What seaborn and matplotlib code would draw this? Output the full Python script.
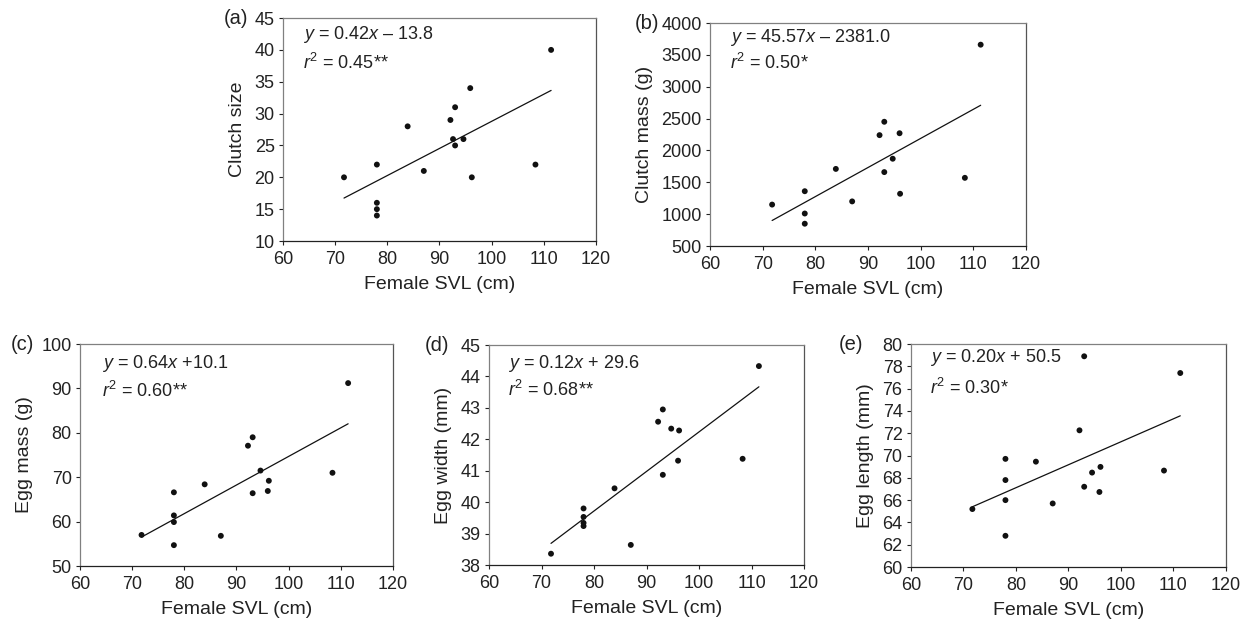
import matplotlib
matplotlib.use("Agg")
import matplotlib.pyplot as plt
import seaborn as sns

sns.set_style("ticks")
plt.rcParams['font.family'] = ['Liberation Sans', 'DejaVu Sans']
plt.rcParams['mathtext.fontset'] = 'custom'
plt.rcParams['mathtext.rm'] = 'Liberation Sans'
plt.rcParams['mathtext.it'] = 'Liberation Sans:italic'
plt.rcParams['text.color'] = '#222222'
plt.rcParams['axes.labelcolor'] = '#222222'
plt.rcParams['xtick.color'] = '#222222'
plt.rcParams['ytick.color'] = '#222222'

# female snout-vent length (cm) and reproductive traits
x_a = [71.7, 78.0, 78.0, 78.0, 78.0, 83.9, 87.0, 92.1, 92.6, 93.0, 93.0, 94.6, 95.9, 96.2, 108.4, 111.4]
clutch_size = [20, 22, 16, 15, 14, 28, 21, 29, 26, 31, 25, 26, 34, 20, 22, 40]

x_b = [71.8, 78.0, 78.0, 78.0, 83.9, 87.0, 92.2, 93.1, 93.1, 94.7, 96.0, 96.1, 108.4, 111.4]
clutch_mass = [1150, 1360, 1010, 850, 1710, 1200, 2240, 2450, 1660, 1870, 2270, 1320, 1570, 3660]

x_c = [71.8, 78.0, 78.0, 78.0, 78.0, 83.9, 87.0, 92.2, 93.1, 93.1, 94.6, 96.0, 96.2, 108.4, 111.4]
egg_mass = [57.0, 66.6, 61.4, 59.9, 54.7, 68.4, 56.8, 77.1, 79.0, 66.4, 71.5, 66.9, 69.2, 71.0, 91.2]

x_d = [71.8, 78.0, 78.0, 78.0, 78.0, 83.9, 87.0, 92.2, 93.1, 93.1, 94.7, 96.2, 96.0, 108.3, 111.4]
egg_width = [38.36, 39.80, 39.53, 39.34, 39.24, 40.44, 38.64, 42.56, 42.95, 40.87, 42.34, 42.28, 41.32, 41.38, 44.33]

x_e = [71.7, 78.0, 78.0, 78.0, 78.0, 83.8, 87.0, 92.1, 93.0, 93.0, 94.5, 95.9, 96.1, 108.2, 111.3]
egg_length = [65.2, 69.7, 67.8, 66.0, 62.8, 69.45, 65.7, 72.26, 78.9, 67.2, 68.47, 66.73, 68.98, 68.65, 77.4]

x_ticks = [60, 70, 80, 90, 100, 110, 120]

panels = [
    # letter, x, y, ylabel, yticks, equation, r2 text
    ('(a)', x_a, clutch_size, 'Clutch size', list(range(10, 46, 5)),
     r'$\it{y}$ = 0.42$\it{x}$ – 13.8', r'$\it{r}^{2}$ = 0.45**'),
    ('(b)', x_b, clutch_mass, 'Clutch mass (g)', list(range(500, 4001, 500)),
     r'$\it{y}$ = 45.57$\it{x}$ – 2381.0', r'$\it{r}^{2}$ = 0.50*'),
    ('(c)', x_c, egg_mass, 'Egg mass (g)', list(range(50, 101, 10)),
     r'$\it{y}$ = 0.64$\it{x}$ +10.1', r'$\it{r}^{2}$ = 0.60**'),
    ('(d)', x_d, egg_width, 'Egg width (mm)', list(range(38, 46, 1)),
     r'$\it{y}$ = 0.12$\it{x}$ + 29.6', r'$\it{r}^{2}$ = 0.68**'),
    ('(e)', x_e, egg_length, 'Egg length (mm)', list(range(60, 81, 2)),
     r'$\it{y}$ = 0.20$\it{x}$ + 50.5', r'$\it{r}^{2}$ = 0.30*'),
]

# axes boxes in figure fractions (left, bottom, width, height)
boxes = [
    (0.2271, 0.6125, 0.2512, 0.3585),
    (0.5698, 0.6045, 0.2536, 0.3585),
    (0.0642, 0.0900, 0.2512, 0.3569),
    (0.3925, 0.0916, 0.2528, 0.3537),
    (0.7311, 0.0884, 0.2528, 0.3585),
]
letter_x = [-0.11, -0.16, -0.145, -0.125, -0.15]
eq_pos = [(0.064, 0.924, 0.80), (0.063, 0.933, 0.82), (0.07, 0.914, 0.79),
          (0.06, 0.918, 0.795), (0.06, 0.94, 0.805)]

fig = plt.figure(figsize=(12.46, 6.22), dpi=100)

for i, (letter, xs, ys, ylabel, yticks, eq, r2) in enumerate(panels):
    ax = fig.add_axes(boxes[i])
    sns.regplot(x=xs, y=ys, ax=ax, scatter=False, ci=None, truncate=True,
                line_kws={'color': '#111111', 'lw': 0.9})
    sns.scatterplot(x=xs, y=ys, ax=ax, color='#111111', s=18,
                    edgecolor='none', zorder=3)
    ax.set_xlim(60, 120)
    ax.set_ylim(yticks[0], yticks[-1])
    ax.set_xticks(x_ticks)
    ax.set_yticks(yticks)
    ax.tick_params(axis='both', labelsize=13, length=3, width=0.8)
    ax.tick_params(axis='x', pad=4)
    ax.tick_params(axis='y', pad=3)
    ax.set_xlabel('Female SVL (cm)', fontsize=14, labelpad=6)
    ax.set_ylabel(ylabel, fontsize=14, labelpad=6)
    for side in ['left', 'top']:
        ax.spines[side].set_color('#808080')
    ax.spines['right'].set_color('#555555')
    ax.spines['bottom'].set_color('#222222')
    for sp in ax.spines.values():
        sp.set_linewidth(0.9)
    ax.text(letter_x[i], 1.0, letter, transform=ax.transAxes,
            ha='right', va='center', fontsize=14.5)
    ex, ey, ry = eq_pos[i]
    ax.text(ex, ey, eq, transform=ax.transAxes, ha='left', va='center', fontsize=13)
    ax.text(ex, ry, r2, transform=ax.transAxes, ha='left', va='center', fontsize=13)

fig.savefig('out.png', dpi=100)
